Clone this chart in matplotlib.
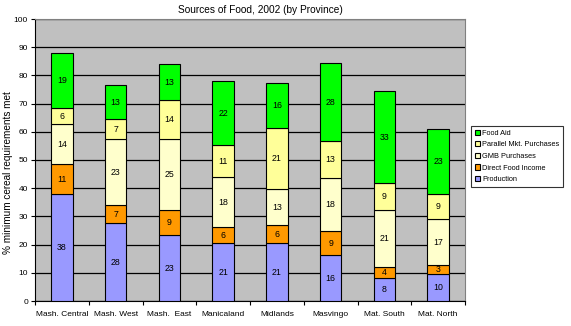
import matplotlib.pyplot as plt
import numpy as np

plt.rcParams['font.family'] = ['Liberation Sans', 'DejaVu Sans']

# --- data ---
provinces = ['Mash. Central', 'Mash. West', 'Mash.  East', 'Manicaland',
             'Midlands', 'Masvingo', 'Mat. South', 'Mat. North']
series = ['Production', 'Direct Food Income', 'GMB Purchases',
          'Parallel Mkt. Purchases', 'Food Aid']

production = [37.8, 27.5, 23.3, 20.5, 20.5, 16.2, 8.0, 9.5]
direct_food = [10.7, 6.5, 8.9, 5.6, 6.3, 8.5, 3.9, 3.2]
gmb = [14.2, 23.3, 25.1, 17.8, 12.8, 18.8, 20.3, 16.3]
parallel = [5.6, 7.1, 13.9, 11.3, 21.6, 13.1, 9.5, 8.9]
food_aid = [19.5, 12.1, 12.7, 22.7, 16.0, 27.7, 32.8, 23.0]

# labels as printed on the bars
production_lbl = [38, 28, 23, 21, 21, 16, 8, 10]
direct_food_lbl = [11, 7, 9, 6, 6, 9, 4, 3]
gmb_lbl = [14, 23, 25, 18, 13, 18, 21, 17]
parallel_lbl = [6, 7, 14, 11, 21, 13, 9, 9]
food_aid_lbl = [19, 13, 13, 22, 16, 28, 33, 23]

colors = ['#9999FF', '#FF9900', '#FFFFCC', '#FFFF99', '#00FF00']

values = [production, direct_food, gmb, parallel, food_aid]
labels = [production_lbl, direct_food_lbl, gmb_lbl, parallel_lbl, food_aid_lbl]

fig = plt.figure(figsize=(5.71, 3.26), dpi=100)
ax = fig.add_axes([35 / 571, 25 / 326, 430 / 571, 282 / 326])
ax.set_facecolor('#C0C0C0')

x = np.arange(len(provinces))
bottom = np.zeros(len(provinces))
handles = []
for vals, lbls, col, name in zip(values, labels, colors, series):
    vals = np.array(vals)
    b = ax.bar(x, vals, 0.4, bottom=bottom, color=col, edgecolor='black',
               linewidth=0.8, label=name, zorder=3)
    handles.append(b)
    for xi, v, bt, l in zip(x, vals, bottom, lbls):
        ax.text(xi, bt + v / 2, str(l), ha='center', va='center',
                fontsize=6.3, zorder=4)
    bottom = bottom + vals

ax.set_xlim(-0.5, len(provinces) - 0.5)
ax.set_ylim(0, 100)
ax.set_yticks(range(0, 101, 10))
ax.tick_params(axis='y', labelsize=6, length=3, width=0.8, pad=2)
ax.yaxis.grid(True, color='black', linewidth=0.9, zorder=1)
ax.set_axisbelow(True)

ax.set_xticks(x)
ax.set_xticklabels(provinces, fontsize=6)
ax.set_xticks(np.arange(-0.5, len(provinces), 1), minor=True)
ax.tick_params(axis='x', which='major', length=0, pad=7)
ax.tick_params(axis='x', which='minor', length=3, width=0.8)

for side in ['top', 'right']:
    ax.spines[side].set_color('#808080')
ax.spines['left'].set_color('black')
ax.spines['bottom'].set_color('black')

ax.set_ylabel('% minimum cereal requirements met', fontsize=7.2,
              va='center')
ax.yaxis.set_label_coords(-0.063, 0.457)

fig.text(260 / 571, 1 - 10 / 326, 'Sources of Food, 2002 (by Province)',
         ha='center', va='center', fontsize=7.3)

leg = fig.legend(handles[::-1], series[::-1], loc='upper left',
                 bbox_to_anchor=(471 / 571, 1 - 126 / 326), fontsize=5.3,
                 frameon=True, fancybox=False, edgecolor='black',
                 handlelength=0.7, handleheight=0.7, handletextpad=0.3,
                 borderpad=0.5, labelspacing=0.6, borderaxespad=0)
leg.get_frame().set_linewidth(0.8)

fig.savefig('out.png', dpi=100)
